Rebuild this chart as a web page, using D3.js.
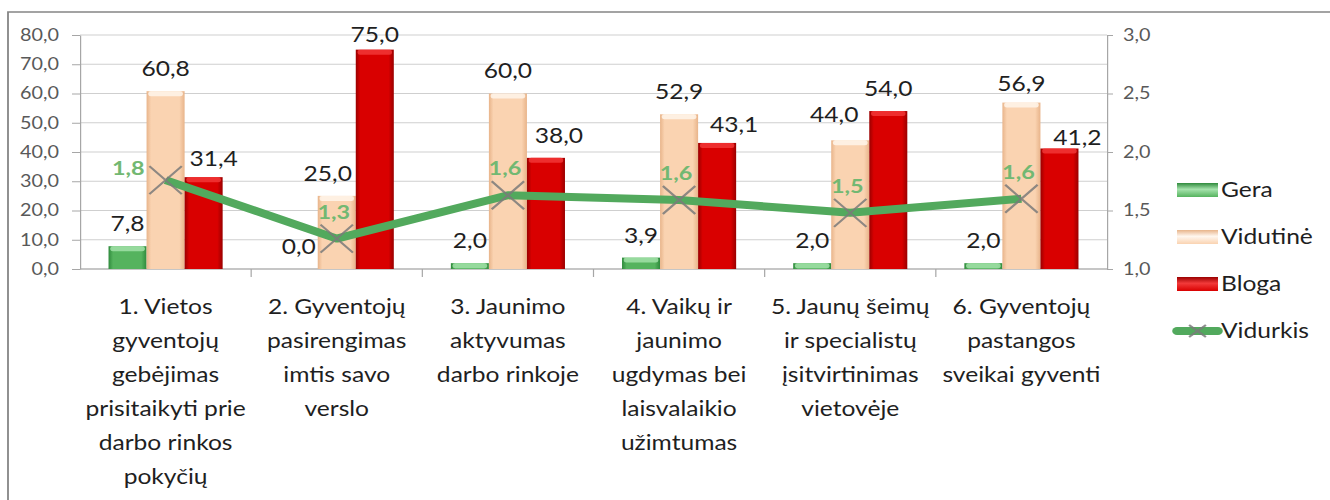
<!DOCTYPE html>
<html>
<head>
<meta charset="utf-8">
<script src="https://cdn.jsdelivr.net/npm/d3@7"></script>
<style>
body { margin: 0; background: #fff; }
text { font-family: Lato, "Open Sans", sans-serif; }
</style>
</head>
<body>
<svg width="1330" height="500"></svg>
<script>
// category tick labels, already wrapped as in the picture
var categoryLines = [
    ["1. Vietos", "gyventojų", "gebėjimas", "prisitaikyti prie", "darbo rinkos", "pokyčių"],
    ["2. Gyventojų", "pasirengimas", "imtis savo", "verslo"],
    ["3. Jaunimo", "aktyvumas", "darbo rinkoje"],
    ["4. Vaikų ir", "jaunimo", "ugdymas bei", "laisvalaikio", "užimtumas"],
    ["5. Jaunų šeimų", "ir specialistų", "įsitvirtinimas", "vietovėje"],
    ["6. Gyventojų", "pastangos", "sveikai gyventi"]
];
var seriesNames = ["Gera", "Vidutinė", "Bloga"];
var gera     = [7.8, 0.0, 2.0, 3.9, 2.0, 2.0];
var vidutine = [60.8, 25.0, 60.0, 52.9, 44.0, 56.9];
var bloga    = [31.4, 75.0, 38.0, 43.1, 54.0, 41.2];
var lineName = "Vidurkis";
var vidurkis = [1.76, 1.26, 1.63, 1.59, 1.48, 1.60];
var leftTicks  = [0, 10, 20, 30, 40, 50, 60, 70, 80];
var rightTicks = [1.0, 1.5, 2.0, 2.5, 3.0];

var categories = categoryLines.map(function(l) { return l.join(" "); });
var seriesValues = [gera, vidutine, bloga];

// the picture is stretched sideways, so draw in a narrower space and scale it
var sx = 1.2;
function ix(v) { return v / sx; }

var svg = d3.select("svg");
var root = svg.append("g").attr("transform", "scale(" + sx + ",1)");

var plotLeft = ix(80), plotRight = ix(1107), plotTop = 35, plotBottom = 269;

var locale = d3.formatLocale({decimal: ",", thousands: " ", grouping: [3], currency: ["", ""]});
var fmt = locale.format(".1f");

var x0 = d3.scaleBand().domain(categories).range([plotLeft, plotRight]).paddingInner(0).paddingOuter(0);
var x1 = d3.scaleBand().domain(seriesNames).range([0, x0.bandwidth()]).paddingInner(0).paddingOuter(0.75);
var y  = d3.scaleLinear().domain([0, 80]).range([plotBottom, plotTop]);
var y2 = d3.scaleLinear().domain([1, 3]).range([plotBottom, plotTop]);

// edge, body, cap
var colors = {
    "Gera":     ["#2f8a3c", "#55b35e", "#a6e3ad"],
    "Vidutinė": ["#e8b48a", "#fad3b1", "#fff7ef"],
    "Bloga":    ["#9a0000", "#d90000", "#f23a3a"]
};
var lineColor = "#52a95d";
var markColor = "#7a7a7a";

// gradients
var defs = svg.append("defs");
seriesNames.forEach(function(s, i) {
    var g = defs.append("linearGradient").attr("id", "grad" + i)
        .attr("x1", 0).attr("x2", 1).attr("y1", 0).attr("y2", 0);
    g.append("stop").attr("offset", "0%").attr("stop-color", colors[s][0]);
    g.append("stop").attr("offset", "12%").attr("stop-color", colors[s][1]);
    g.append("stop").attr("offset", "86%").attr("stop-color", colors[s][1]);
    g.append("stop").attr("offset", "100%").attr("stop-color", colors[s][0]);
    var h = defs.append("linearGradient").attr("id", "lgrad" + i)
        .attr("x1", 0).attr("x2", 0).attr("y1", 0).attr("y2", 1);
    h.append("stop").attr("offset", "0%").attr("stop-color", colors[s][0]);
    h.append("stop").attr("offset", "45%").attr("stop-color", colors[s][2]);
    h.append("stop").attr("offset", "100%").attr("stop-color", colors[s][1]);
});

// chart border
root.append("rect")
    .attr("x", ix(8)).attr("y", 12)
    .attr("width", ix(1400)).attr("height", 600)
    .attr("fill", "none").attr("stroke", "#858585").attr("stroke-width", 1.5);

// gridlines
root.append("g").selectAll("line")
    .data(leftTicks)
    .enter().append("line")
    .attr("x1", plotLeft).attr("x2", plotRight)
    .attr("y1", function(d) { return y(d); })
    .attr("y2", function(d) { return y(d); })
    .attr("stroke", "#cfcfcf").attr("stroke-width", 1.2);

// left axis
var leftAxis = root.append("g")
    .attr("transform", "translate(" + plotLeft + ",0)")
    .call(d3.axisLeft(y).tickValues(leftTicks).tickFormat(fmt).tickSize(ix(8)).tickSizeOuter(0).tickPadding(ix(13)));

// right axis
var rightAxis = root.append("g")
    .attr("transform", "translate(" + plotRight + ",0)")
    .call(d3.axisRight(y2).tickValues(rightTicks).tickFormat(fmt).tickSize(ix(6)).tickSizeOuter(0).tickPadding(ix(10)));

[leftAxis, rightAxis].forEach(function(a) {
    a.select(".domain").attr("stroke", "#a6a6a6");
    a.selectAll(".tick line").attr("stroke", "#a6a6a6");
    a.selectAll(".tick text")
        .attr("fill", "#595959")
        .style("font-size", "16.5px")
        .style("font-family", "Lato, sans-serif");
});

// bottom axis line and category ticks
root.append("line")
    .attr("x1", plotLeft).attr("x2", plotRight)
    .attr("y1", plotBottom).attr("y2", plotBottom)
    .attr("stroke", "#a6a6a6");
root.append("g").selectAll("line")
    .data(categories.slice(1))
    .enter().append("line")
    .attr("x1", function(d) { return x0(d); })
    .attr("x2", function(d) { return x0(d); })
    .attr("y1", plotBottom).attr("y2", plotBottom + 8)
    .attr("stroke", "#a6a6a6");

// category labels
var catLabels = root.append("g").selectAll("text")
    .data(categoryLines)
    .enter().append("text")
    .attr("text-anchor", "middle")
    .attr("fill", "#1f1f1f")
    .style("font-size", "20.5px");
catLabels.each(function(lines, i) {
    var t = d3.select(this);
    lines.forEach(function(l, j) {
        t.append("tspan")
            .attr("x", x0(categories[i]) + x0.bandwidth() / 2)
            .attr("y", 314 + j * 34)
            .text(l);
    });
});

// bars
var barData = [];
seriesNames.forEach(function(s, si) {
    seriesValues[si].forEach(function(v, ci) {
        barData.push({series: s, si: si, cat: categories[ci], ci: ci, value: v});
    });
});

var bars = root.append("g").selectAll("g")
    .data(barData)
    .enter().append("g");
bars.append("rect")
    .attr("x", function(d) { return x0(d.cat) + x1(d.series); })
    .attr("y", function(d) { return y(d.value); })
    .attr("width", x1.bandwidth())
    .attr("height", function(d) { return plotBottom - y(d.value); })
    .attr("fill", function(d) { return "url(#grad" + d.si + ")"; });
// light cap on top of each bar
bars.filter(function(d) { return d.value > 0; })
    .append("rect")
    .attr("x", function(d) { return x0(d.cat) + x1(d.series) + 1.5; })
    .attr("y", function(d) { return y(d.value); })
    .attr("width", x1.bandwidth() - 3)
    .attr("height", function(d) { return Math.min(5, plotBottom - y(d.value)); })
    .attr("rx", 2)
    .attr("fill", function(d) { return colors[d.series][2]; })
    .attr("opacity", 0.8);

// bar value labels; a few are nudged the way the picture has them
var labelNudge = {"2-0": [10, 4], "1-1": [-9, 0], "2-1": [0, 7], "2-2": [13, 0],
                  "2-3": [17, 4], "1-4": [-16, -3], "2-5": [18, 12], "1-5": [0, 3]};
root.append("g").selectAll("text")
    .data(barData)
    .enter().append("text")
    .attr("text-anchor", "middle")
    .attr("fill", "#1f1f1f")
    .style("font-size", "20.5px")
    .attr("x", function(d) {
        var n = labelNudge[d.si + "-" + d.ci] || [0, 0];
        return x0(d.cat) + x1(d.series) + x1.bandwidth() / 2 + ix(n[0]);
    })
    .attr("y", function(d) {
        var n = labelNudge[d.si + "-" + d.ci] || [0, 0];
        return y(d.value) - 15 + n[1];
    })
    .text(function(d) { return fmt(d.value); });

// average line
var linePts = vidurkis.map(function(v, i) {
    return [x0(categories[i]) + x0.bandwidth() / 2, y2(v), v];
});
root.append("path")
    .datum(linePts)
    .attr("fill", "none")
    .attr("stroke", lineColor)
    .attr("stroke-width", 8)
    .attr("stroke-linejoin", "round")
    .attr("d", d3.line().x(function(d) { return d[0]; }).y(function(d) { return d[1]; }));

function xMark(sel, s, h) {
    sel.attr("d", "M" + (-s) + "," + (-h) + "L" + s + "," + h + "M" + (-s) + "," + h + "L" + s + "," + (-h))
        .attr("stroke", markColor).attr("stroke-width", 2).attr("fill", "none").attr("opacity", 0.85);
}
root.append("g").selectAll("path")
    .data(linePts)
    .enter().append("path")
    .attr("transform", function(d) { return "translate(" + d[0] + "," + d[1] + ")"; })
    .call(xMark, 13.5, 14);

root.append("g").selectAll("text")
    .data(linePts)
    .enter().append("text")
    .attr("text-anchor", function(d, i) { return i === 0 ? "end" : "middle"; })
    .attr("x", function(d, i) { return i === 0 ? d[0] - ix(21) : d[0] - ix(3); })
    .attr("y", function(d, i) { return i === 0 ? d[1] - 5 : d[1] - 20; })
    .attr("fill", "#72b872")
    .style("font-size", "19.5px")
    .style("font-weight", "bold")
    .text(function(d) { return fmt(d[2]); });

// legend
var legendItems = seriesNames.concat([lineName]);
var legend = root.append("g").selectAll("g")
    .data(legendItems)
    .enter().append("g")
    .attr("transform", function(d, i) { return "translate(" + ix(1177) + "," + (190 + i * 47) + ")"; });
legend.each(function(d, i) {
    var g = d3.select(this);
    if (i < 3) {
        g.append("rect")
            .attr("x", 0).attr("y", -7)
            .attr("width", ix(41)).attr("height", 14)
            .attr("fill", "url(#lgrad" + i + ")");
    } else {
        g.append("line")
            .attr("x1", 0).attr("x2", ix(41)).attr("y1", 0).attr("y2", 0)
            .attr("stroke", lineColor).attr("stroke-width", 8).attr("stroke-linecap", "round");
        g.append("path").attr("transform", "translate(" + ix(20.5) + ",0)").call(xMark, 7, 6);
    }
    g.append("text")
        .attr("x", ix(44)).attr("y", 7)
        .attr("fill", "#1f1f1f")
        .style("font-size", "20.5px")
        .text(d);
});
</script>
</body>
</html>
